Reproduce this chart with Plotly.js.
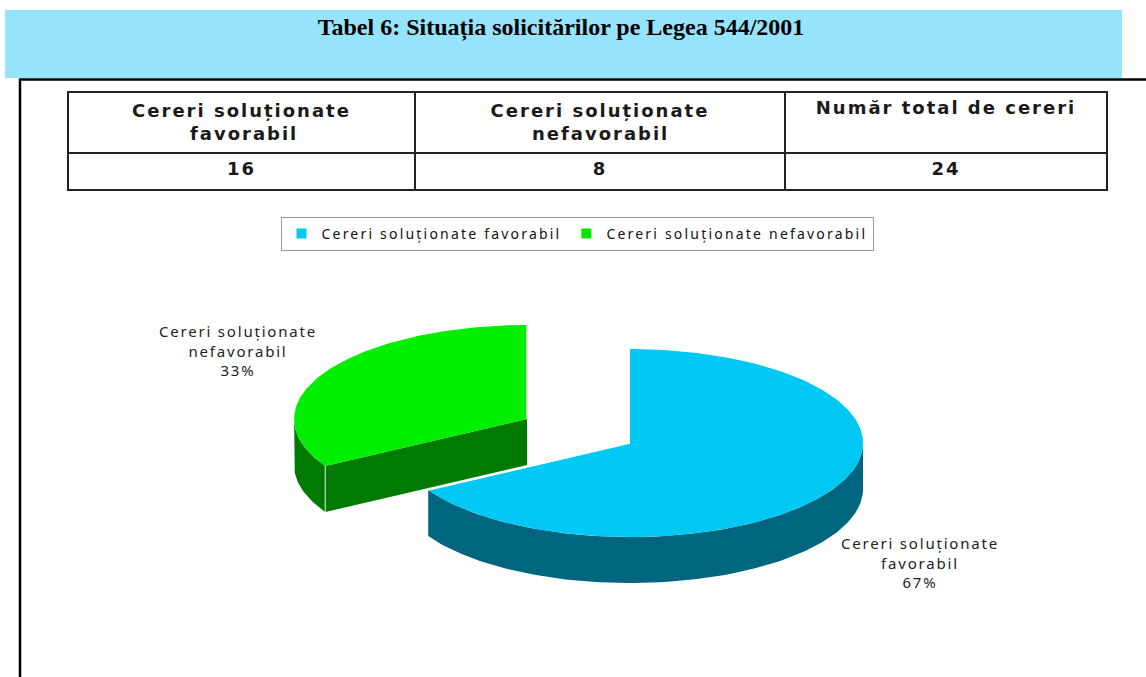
<!DOCTYPE html>
<html><head><meta charset="utf-8">
<script src="https://cdn.plot.ly/plotly-3.0.1.min.js"></script>
<style>
html,body{margin:0;padding:0;background:#fff;}
#chart{width:1146px;height:677px;}
g.table text{letter-spacing:2px;}
.legendtext{letter-spacing:2.2px;}
.annotation-text{letter-spacing:1.8px;}
</style></head><body><div id="chart"></div>
<script>
// ---- data ----
const titleText = "Tabel 6: Situația solicitărilor pe Legea 544/2001";
const tableHeaderLines = [["Cereri soluționate", "favorabil"], ["Cereri soluționate", "nefavorabil"], ["Număr total de cereri"]];
const tableValues = [16, 8, 24];
const categories = ["Cereri soluționate favorabil", "Cereri soluționate nefavorabil"];
const labelLines = [["Cereri soluționate", "favorabil"], ["Cereri soluționate", "nefavorabil"]];
const values = [16, 8];
const pulls = [0, 0.51];

// ---- style / geometry ----
const W = 1146, H = 677;
const cx = 630, cy = 443, rx = 233, ry = 94, depth = 46;
const topColors = ['#00c8f5', '#00ef00'];
const sideColors = ['#00657f', '#007a00'];
const legendColors = ['#00c8f5', '#00e600'];
const labelPos = [[920, 562], [238, 350]];
const tableFont = { family: 'DejaVu Sans', size: 18, weight: 'bold', color: '#1a1a1a' };
const tableSpacing = 2;

// center multi-line header text (table aligns the text block, not each line)
const cv = document.createElement('canvas').getContext('2d');
cv.font = 'bold ' + tableFont.size + 'px "DejaVu Sans"';
function tw(s) { return cv.measureText(s).width + s.length * tableSpacing; }
const nbspW = tw('\u00A0');
const tableHeaders = tableHeaderLines.map(lines => {
  const maxW = Math.max(...lines.map(tw));
  return lines.map(l => {
    const n = Math.round((maxW - tw(l)) / 2 / nbspW);
    return '\u00A0'.repeat(n) + l;
  }).join('<br>');
});

const sum = values.reduce((a, b) => a + b, 0);
function P(c, th, dz) { return [c[0] + rx * Math.sin(th), c[1] - ry * Math.cos(th) + (dz || 0)]; }
function arc(c, a0, a1, dz) {
  const n = Math.max(2, Math.ceil(Math.abs(a1 - a0) / 0.02));
  const out = [];
  for (let k = 0; k <= n; k++) out.push(P(c, a0 + (a1 - a0) * k / n, dz));
  return out;
}
function poly(points, color) {
  return { type: 'scatter', mode: 'lines', x: points.map(p => p[0]), y: points.map(p => p[1]),
    fill: 'toself', fillcolor: color, line: { width: 0 }, hoverinfo: 'skip', showlegend: false };
}
function lineTr(points, color, w) {
  return { type: 'scatter', mode: 'lines', x: points.map(p => p[0]), y: points.map(p => p[1]),
    line: { color: color, width: w }, hoverinfo: 'skip', showlegend: false };
}

const slices = [];
let acc = 0;
values.forEach((v, i) => {
  const a0 = acc / sum * 2 * Math.PI; acc += v;
  const a1 = acc / sum * 2 * Math.PI;
  const mid = (a0 + a1) / 2;
  const c = [cx + pulls[i] * rx * Math.sin(mid), cy - pulls[i] * ry * Math.cos(mid)];
  slices.push({ i, a0, a1, c });
});
slices.sort((s, t) => s.c[1] - t.c[1]);

const traces = [];
slices.forEach(s => {
  const { i, a0, a1, c } = s;
  const s0 = Math.max(a0, Math.PI / 2), s1 = Math.min(a1, 3 * Math.PI / 2);
  if (s1 > s0) {
    const top = arc(c, s0, s1, 0), bot = arc(c, s1, s0, depth);
    traces.push(poly(top.concat(bot), sideColors[i]));
  }
  if (Math.sin(a0) < -1e-6) {
    const e = P(c, a0), eb = P(c, a0, depth);
    traces.push(poly([c, e, eb, [c[0], c[1] + depth], c], sideColors[i]));
    traces.push(lineTr([e, eb], '#b9dcb9', 1.2));
  }
  if (Math.sin(a1) > 1e-6) {
    const e = P(c, a1), eb = P(c, a1, depth);
    traces.push(poly([c, e, eb, [c[0], c[1] + depth], c], sideColors[i]));
  }
  traces.push(poly([c].concat(arc(c, a0, a1, 0)).concat([c]), topColors[i]));
  traces.push(lineTr([P(c, a1), c], '#ffffff', 1.5));
});

categories.forEach((name, i) => {
  traces.push({ type: 'scatter', mode: 'markers', x: [null], y: [null], name: name,
    marker: { symbol: 'square', size: 10, color: legendColors[i] }, hoverinfo: 'skip', showlegend: true });
});

traces.push({
  type: 'table',
  domain: { x: [68 / W, 1107 / W], y: [1 - 191 / H, 1 - 92 / H] },
  columnwidth: [347, 370, 322],
  header: { values: tableHeaders.map(h => [h]), align: 'center', height: 61,
    fill: { color: '#ffffff' }, line: { color: '#222', width: 2.5 }, font: tableFont },
  cells: { values: tableValues.map(v => [String(v)]), align: 'center', height: 37,
    fill: { color: '#ffffff' }, line: { color: '#222', width: 2.5 }, font: tableFont }
});

const annotations = values.map((v, i) => ({
  x: labelPos[i][0], y: labelPos[i][1], xref: 'x', yref: 'y', showarrow: false,
  text: labelLines[i].join('<br>') + '<br>' + Math.round(v / sum * 100) + '%',
  align: 'center', font: { family: 'Noto Sans', size: 15, color: '#222' }
}));

const layout = {
  width: W, height: H, margin: { l: 0, r: 0, t: 0, b: 0 },
  paper_bgcolor: '#fff', plot_bgcolor: 'rgba(0,0,0,0)',
  title: { text: titleText, x: 561 / W, xanchor: 'center', y: 1 - 27 / H, yanchor: 'middle',
    font: { family: 'Liberation Serif', size: 24, weight: 'bold', color: '#000' } },
  xaxis: { range: [0, W], visible: false, fixedrange: true },
  yaxis: { range: [H, 0], visible: false, fixedrange: true },
  showlegend: true,
  legend: { orientation: 'h', x: 577 / W, xanchor: 'center', y: 1 - 217 / H, yanchor: 'top',
    bordercolor: '#999', borderwidth: 1, bgcolor: '#fff', itemwidth: 30,
    font: { family: 'Noto Sans', size: 14, color: '#111' } },
  shapes: [
    { type: 'rect', xref: 'x', yref: 'y', x0: 5, x1: 1122, y0: 10, y1: 78, fillcolor: '#96e4fc', line: { width: 0 }, layer: 'below' },
    { type: 'line', xref: 'x', yref: 'y', x0: 19, x1: 1146, y0: 79.5, y1: 79.5, line: { color: '#000', width: 2.5 } },
    { type: 'line', xref: 'x', yref: 'y', x0: 20, x1: 20, y0: 79, y1: 677, line: { color: '#000', width: 2.5 } }
  ],
  annotations: annotations
};

Plotly.newPlot('chart', traces, layout, { staticPlot: true, displayModeBar: false });
</script></body></html>
